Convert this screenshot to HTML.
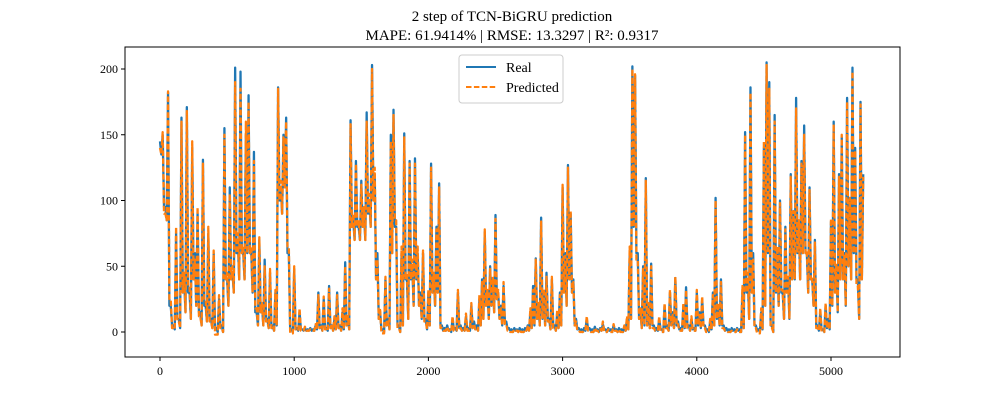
<!DOCTYPE html>
<html><head><meta charset="utf-8"><style>
body{margin:0;background:#fff;font-family:"Liberation Serif",serif;}
svg text{font-family:"Liberation Serif",serif;}
</style></head><body>
<svg id="chart" width="1000" height="400">
<text x="512" y="21" text-anchor="middle" font-size="15">2 step of TCN-BiGRU prediction</text>
<text x="512" y="40" text-anchor="middle" font-size="15">MAPE: 61.9414% | RMSE: 13.3297 | R²: 0.9317</text>
<g id="axes"></g>
<g id="series"></g>
<rect x="125" y="47" width="775" height="310" fill="none" stroke="#000" stroke-width="1"/>
<g>
<rect x="459" y="55" width="104" height="48" rx="3" fill="#fff" fill-opacity="0.8" stroke="#ccc"/>
<line x1="466" y1="67" x2="496" y2="67" stroke="#1f77b4" stroke-width="2"/>
<text x="506" y="72" font-size="14">Real</text>
<line x1="466" y1="87" x2="496" y2="87" stroke="#ff7f0e" stroke-width="2" stroke-dasharray="5.5,2.4"/>
<text x="506" y="92" font-size="14">Predicted</text>
</g>
</svg>
<script>
const tStep = 20;
const realValues = [145,150,95,182,20,5,75,10,163,40,171,30,140,60,90,15,131,20,75,10,60,3,25,5,155,40,110,45,201,70,198,60,150,180,60,137,15,70,20,55,10,45,5,30,186,110,150,163,60,2,48,3,15,2,3,2,3,2,5,30,5,25,3,35,5,10,30,5,15,53,10,161,85,130,80,115,90,167,100,203,120,60,15,2,40,10,150,169,80,5,60,151,40,130,50,132,60,30,60,10,30,128,40,80,113,5,3,5,2,10,3,30,5,3,12,3,20,8,5,25,40,76,30,50,40,89,30,20,35,8,3,2,3,2,3,2,3,5,15,35,56,20,87,30,45,10,40,5,15,30,110,60,127,90,40,10,3,2,3,10,3,2,4,2,3,6,2,3,2,5,2,3,2,4,10,60,202,195,60,15,50,117,20,52,5,3,10,2,20,5,30,15,41,8,3,20,34,5,10,3,30,15,25,5,2,8,30,102,20,40,5,3,2,3,2,3,2,30,152,40,186,60,5,2,15,140,205,190,5,165,60,100,30,80,40,120,90,178,80,130,157,60,110,40,70,5,15,2,20,10,84,160,50,120,148,60,178,100,201,140,40,175,120];
const predValues = [140,152,90,183,25,3,80,8,160,45,168,35,145,55,95,12,128,25,80,8,62,-2,28,3,150,45,105,50,190,75,185,65,160,175,65,130,18,72,22,50,8,48,3,32,185,115,148,160,65,-1,50,2,18,1,4,1,2,1,6,28,4,27,2,33,6,12,28,4,18,50,12,158,90,128,85,112,95,160,105,200,125,55,18,-1,42,8,145,165,85,3,65,148,45,128,55,128,65,28,62,8,32,125,45,78,110,3,1,4,1,12,1,32,3,2,14,1,22,6,3,28,38,78,32,48,42,86,32,18,38,6,1,0,2,1,2,0,2,4,18,32,55,22,84,33,42,8,42,3,17,28,112,58,125,92,38,8,1,0,1,12,1,0,3,1,2,8,0,2,0,6,1,2,0,5,12,65,200,196,55,18,48,115,22,50,3,1,12,0,22,3,32,13,42,6,1,22,32,3,12,1,32,13,27,3,0,10,28,100,22,38,3,1,0,1,0,2,0,35,150,45,182,55,3,-1,18,145,203,185,3,160,65,98,32,78,42,118,92,170,85,128,150,62,108,42,68,3,18,0,22,8,86,158,52,118,150,58,175,102,198,138,35,173,118];
const lowValues = [135,140,85,150,5,2,20,3,30,15,40,10,40,20,30,5,30,8,15,3,10,0,5,0,40,20,40,30,60,40,60,40,60,60,30,20,5,15,5,10,3,8,1,5,100,90,110,100,20,0,2,1,2,1,1,1,1,1,2,3,1,3,1,3,1,2,3,1,2,5,2,80,70,80,70,80,70,90,80,100,40,10,2,0,5,2,60,90,20,0,5,40,10,40,20,40,20,10,10,2,5,30,20,30,20,1,1,1,0,2,1,3,1,1,2,1,3,2,1,5,10,20,10,20,15,25,10,5,8,2,1,0,1,0,1,0,1,1,3,5,10,5,10,5,10,2,5,1,3,5,30,20,40,30,5,2,1,0,1,2,1,0,1,0,1,2,0,1,0,1,0,1,0,1,2,10,80,60,10,3,5,5,3,5,1,1,2,0,3,1,5,3,5,2,1,3,5,1,2,1,5,3,5,1,0,2,5,10,5,5,1,1,0,1,0,1,0,3,30,10,30,5,1,0,2,20,60,20,0,30,20,40,10,30,10,40,40,60,40,60,60,30,40,20,20,1,2,0,3,2,20,30,15,40,40,20,50,40,60,40,10,40,60];
const yTicks = [0,50,100,150,200];
const xTicks = [0,1000,2000,3000,4000,5000];

const X0=160, XS=(831-160)/5000, Y0=332, YS=(332-69)/200;
const xs = t => X0 + t*XS;
const ys = v => Y0 - v*YS;
const NS='http://www.w3.org/2000/svg';
const axes=document.getElementById('axes'), series=document.getElementById('series');

yTicks.forEach(v=>{
  const l=document.createElementNS(NS,'line');
  l.setAttribute('x1',121);l.setAttribute('x2',125);l.setAttribute('y1',ys(v));l.setAttribute('y2',ys(v));l.setAttribute('stroke','#000');
  
  
  axes.appendChild(l);
  const t=document.createElementNS(NS,'text');
  t.setAttribute('x',118);t.setAttribute('y',ys(v)+4);t.setAttribute('text-anchor','end');t.setAttribute('font-size','12');
  t.textContent=v;
  
  
  axes.appendChild(t);
});
xTicks.forEach(v=>{
  const l=document.createElementNS(NS,'line');
  l.setAttribute('x1',xs(v));l.setAttribute('x2',xs(v));l.setAttribute('y1',357);l.setAttribute('y2',361);l.setAttribute('stroke','#000');
  
  
  axes.appendChild(l);
  const t=document.createElementNS(NS,'text');
  t.setAttribute('x',xs(v));t.setAttribute('y',375);t.setAttribute('text-anchor','middle');t.setAttribute('font-size','12');
  t.textContent=v;
  
  
  axes.appendChild(t);
});
function path(vals,lows,color,dash,name){
  const pts=[];
  vals.forEach((v,i)=>{
    const t=i*tStep;
    pts.push([xs(t),ys(v)]);
    if(i<vals.length-1) pts.push([xs(t+tStep/2),ys(Math.min(lows[i],v,vals[i+1]))]);
  });
  const p=document.createElementNS(NS,'path');
  p.setAttribute('d',pts.map((q,i)=>(i?'L':'M')+q[0].toFixed(2)+','+q[1].toFixed(2)).join(''));
  p.setAttribute('fill','none');p.setAttribute('stroke',color);p.setAttribute('stroke-width','2.3');
  p.setAttribute('stroke-linejoin','round');
  if(dash)p.setAttribute('stroke-dasharray',dash);
  
  
  series.appendChild(p);
}
path(realValues,lowValues,'#1f77b4',null,'real-line');
path(predValues,lowValues,'#ff7f0e','5.5,2.4','predicted-line');
</script>
</body></html>
